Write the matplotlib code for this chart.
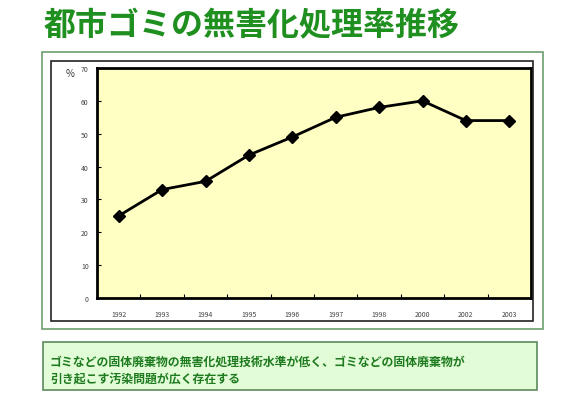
import matplotlib
matplotlib.use("Agg")
import matplotlib.pyplot as plt
from matplotlib.patches import Rectangle

plt.rcParams['font.family'] = ['Noto Sans CJK JP', 'DejaVu Sans']

years = ["1992", "1993", "1994", "1995", "1996", "1997", "1998", "2000", "2002", "2003"]
rates = [25, 33, 35.5, 43.5, 49, 55, 58, 60, 54, 54]
yticks = [0, 10, 20, 30, 40, 50, 60, 70]
title = "都市ゴミの無害化処理率推移"
note = "ゴミなどの固体廃棄物の無害化処理技術水準が低く、ゴミなどの固体廃棄物が\n引き起こす汚染問題が広く存在する"

W, H = 580, 410
fig = plt.figure(figsize=(W/100, H/100), dpi=100)
fig.patch.set_facecolor('white')

def fx(x): return x / W
def fy(y): return 1 - y / H

# title
fig.text(fx(252), fy(26), title, ha='center', va='center', fontsize=23,
         fontweight='bold', color='#1f8f1f')

# outer green frame
fig.patches.append(Rectangle((fx(42), fy(330)), fx(543) - fx(42), fy(53) - fy(330),
                             transform=fig.transFigure, fill=False, edgecolor='#6e9e6e', lw=1.2))
# inner black frame
fig.patches.append(Rectangle((fx(51), fy(322)), fx(533) - fx(51), fy(62) - fy(322),
                             transform=fig.transFigure, fill=False, edgecolor='#222222', lw=1.2))

# bottom note box
fig.patches.append(Rectangle((fx(43), fy(391)), fx(537) - fx(43), fy(343) - fy(391),
                             transform=fig.transFigure, facecolor='#e2fcd8', edgecolor='#5c8a5c', lw=1.2))
fig.text(fx(50), fy(371), note, ha='left', va='center', fontsize=8.6, fontweight='bold',
         color='#1e7a1e', linespacing=1.45)

ax = fig.add_axes([fx(97), fy(299), fx(531) - fx(97), fy(69) - fy(299)])
ax.set_facecolor('#ffffc4')
x = list(range(len(years)))
ax.plot(x, rates, color='black', lw=2, marker='D', markersize=6.5,
        markerfacecolor='black', markeredgecolor='black')
ax.set_xlim(-0.5, len(years) - 0.5)
ax.set_ylim(0, 70)
ax.set_yticks(yticks)
ax.set_yticklabels([str(v) for v in yticks], fontsize=5, color='#444444')
ax.set_xticks(x)
ax.set_xticklabels(years, fontsize=5, color='#444444')
ax.tick_params(axis='x', length=0, pad=9)
ax.set_xticks([i + 0.5 for i in range(len(years) - 1)], minor=True)
ax.tick_params(axis='x', which='minor', direction='in', length=3, width=0.8)
ax.tick_params(axis='y', direction='in', length=3, width=0.8, pad=6)
for s in ax.spines.values():
    s.set_linewidth(2)
    s.set_color('black')
fig.text(fx(70), fy(74), "%", fontsize=7, ha='center', va='center', color='#333333')

fig.savefig("out.png", dpi=100)
